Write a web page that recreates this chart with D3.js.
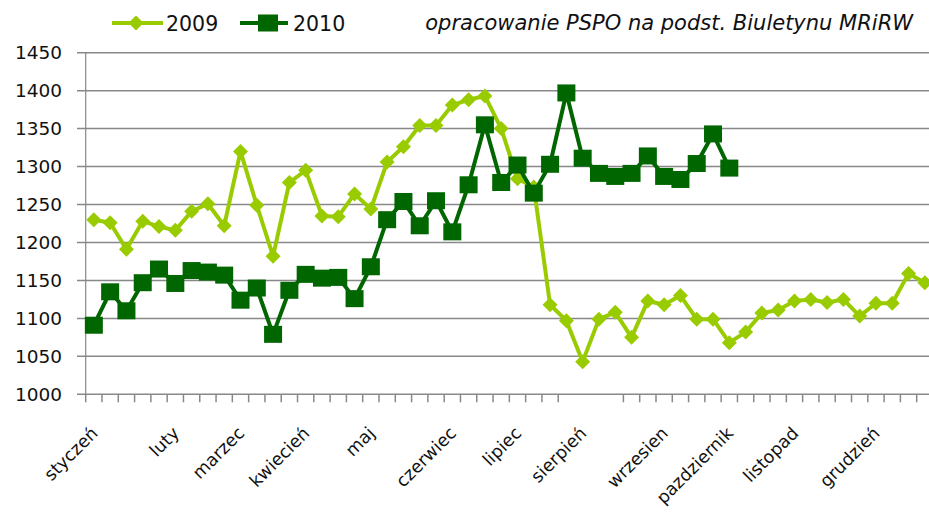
<!DOCTYPE html>
<html><head><meta charset="utf-8">
<script src="https://cdn.jsdelivr.net/npm/d3@7"></script>
<style>html,body{margin:0;padding:0;background:#fff;overflow:hidden}</style>
</head><body>
<svg id="c" width="929" height="521"></svg>
<script>
const weeks = d3.range(1, 53);
const monthLabels = [
  [0, "styczeń"], [5, "luty"], [9, "marzec"], [13, "kwiecień"], [17, "maj"], [22, "czerwiec"],
  [26, "lipiec"], [30, "sierpień"], [35, "wrzesien"], [39, "pazdziernik"], [43, "listopad"], [48, "grudzień"]
];
const series2009 = [1230,1226,1191,1228,1221,1216,1241,1251,1222,1320,1249,1182,1279,1295,1235,1234,1264,1244,1306,1326,1354,1354,1381,1388,
  1393,1350,1284,1273,1118,1097,1043,1099,1108,1075,1123,1118,1130,1099,1099,1068,1082,1107,1111,1123,1125,1121,1125,1103,1120,1120,1159,1147];
const series2010 = [1091,1135,1110,1147,1165,1146,1163,1161,1157,1124,1140,1079,1137,1158,1153,1154,1126,1168,1230,1254,1222,1255,1214,1276,
  1355,1279,1302,1265,1303,1397,1311,1291,1287,1291,1314,1287,1283,1304,1343,1298];
const yTicks = [1000,1050,1100,1150,1200,1250,1300,1350,1400,1450];
const hiddenTicks = [30,31,32];
const legendNames = ["2009", "2010"];
const sourceNote = "opracowanie PSPO na podst. Biuletynu MRiRW";

const c09 = "#99cc00", c10 = "#006600", grid = "#888888";
const svg = d3.select("#c");
const x0 = 85.7, bw = 16.294;
const x = d3.scaleBand().domain(weeks).range([x0, x0 + bw * weeks.length]).padding(0);
const y = d3.scaleLinear().domain([1000, 1450]).range([394.3, 52.7]);
const cx = i => x(weeks[i]) + x.bandwidth() / 2;
const font = "'DejaVu Sans', sans-serif";

// gridlines
svg.append("g").selectAll("line").data(yTicks).join("line")
  .attr("x1", 77).attr("x2", x.range()[1]).attr("y1", d => y(d)).attr("y2", d => y(d))
  .attr("stroke", grid).attr("stroke-width", 1.5);
// y axis line
svg.append("line").attr("x1", x0).attr("x2", x0).attr("y1", y(1450)).attr("y2", y(1000))
  .attr("stroke", grid).attr("stroke-width", 1.2);
// y labels
svg.append("g").selectAll("text").data(yTicks).join("text")
  .attr("x", 62).attr("y", d => y(d) + 6.5).attr("text-anchor", "end")
  .attr("font-family", font).attr("font-size", 18.5).attr("fill", "#111").text(d => d);
// x ticks
const tickIdx = d3.range(0, weeks.length + 1).filter(k => !hiddenTicks.includes(k));
svg.append("g").selectAll("line").data(tickIdx).join("line")
  .attr("x1", k => x0 + k * x.bandwidth()).attr("x2", k => x0 + k * x.bandwidth())
  .attr("y1", y(1000)).attr("y2", y(1000) + 8).attr("stroke", grid).attr("stroke-width", 1.5);
// month labels, rotated -45deg
const lab = svg.append("g").selectAll("g").data(monthLabels).join("g")
  .attr("transform", d => "translate(" + (cx(d[0]) + 5) + "," + (y(1000) + 40) + ") rotate(-45)");
lab.append("text").attr("x", 0).attr("y", 0)
  .attr("text-anchor", "end").attr("font-family", font).attr("font-size", 17.5).attr("fill", "#111")
  .text(d => d[1]);

const line = d3.line().x((d, i) => cx(i)).y(d => y(d));
svg.append("path").datum(series2009).attr("d", line).attr("fill", "none")
  .attr("stroke", c09).attr("stroke-width", 4).attr("stroke-linejoin", "round");
const diamond = s => `M0,${-s}L${s},0L0,${s}L${-s},0Z`;
svg.append("g").selectAll("path").data(series2009).join("path")
  .attr("transform", (d, i) => `translate(${cx(i)},${y(d)})`).attr("d", diamond(7.5)).attr("fill", c09);

svg.append("path").datum(series2010).attr("d", line).attr("fill", "none")
  .attr("stroke", c10).attr("stroke-width", 4).attr("stroke-linejoin", "round");
svg.append("g").selectAll("rect").data(series2010).join("rect")
  .attr("x", (d, i) => cx(i) - 9).attr("y", d => y(d) - 8.5).attr("width", 18).attr("height", 17).attr("fill", c10);

// legend
const lg = svg.append("g");
lg.append("line").attr("x1", 112).attr("x2", 163).attr("y1", 23).attr("y2", 23).attr("stroke", c09).attr("stroke-width", 4);
lg.append("path").attr("transform", "translate(136,23)").attr("d", diamond(7.5)).attr("fill", c09);
lg.append("text").attr("x", 166).attr("y", 30.5).attr("font-family", font).attr("font-size", 20.5).attr("fill", "#111").text(legendNames[0]);
lg.append("line").attr("x1", 240).attr("x2", 288).attr("y1", 23).attr("y2", 23).attr("stroke", c10).attr("stroke-width", 4);
lg.append("rect").attr("x", 258).attr("y", 14.5).attr("width", 20).attr("height", 17).attr("fill", c10);
lg.append("text").attr("x", 293).attr("y", 30.5).attr("font-family", font).attr("font-size", 20.5).attr("fill", "#111").text(legendNames[1]);
svg.append("text").attr("x", 913).attr("y", 29.5).attr("text-anchor", "end").attr("font-family", font)
  .attr("font-style", "italic").attr("font-size", 21).attr("fill", "#111").text(sourceNote);
</script>
</body></html>
